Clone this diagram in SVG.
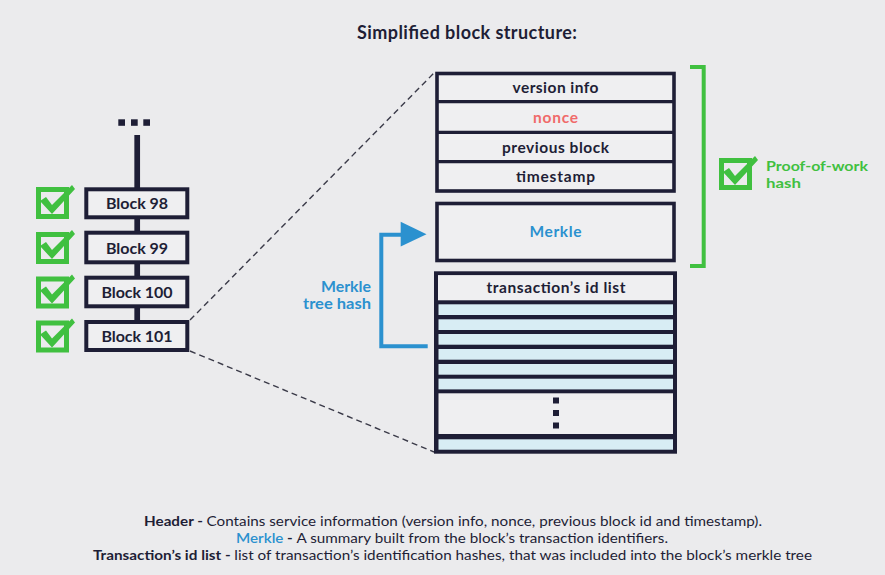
<svg xmlns="http://www.w3.org/2000/svg" width="885" height="575" viewBox="0 0 885 575">
<style>
.bg{fill:#ebebed}
.nv{stroke:#1e1e36;fill:#efeff1}
.lbl{font-family:Lato,"Open Sans",sans-serif;font-weight:700;fill:#1e1e36;text-anchor:middle}
.grn{fill:none;stroke:#40c040;stroke-width:5}
.ft{font-family:Lato,"Open Sans",sans-serif;font-size:14px;fill:#1e1e36;text-anchor:middle}
.b{font-weight:700}
.dash{stroke:#3a3a48;stroke-width:1.4;stroke-dasharray:6 4;fill:none}
</style>
<defs>
<g id="chk">
<rect x="2.5" y="2.5" width="28" height="27" class="grn"/>
<polygon points="4,14 10,10 16,18 36,-2 39,2 16,27" fill="#40c040"/>
</g>
</defs>
<rect width="885" height="575" class="bg"/>
<text x="467" y="39" class="lbl" font-size="18" textLength="220">Simplified block structure:</text>

<g id="connectors">
<line x1="190" y1="320" x2="434" y2="73" class="dash"/>
<line x1="190" y1="351" x2="434" y2="452" class="dash"/>
<line x1="137.2" y1="135" x2="137.2" y2="322" stroke="#1e1e36" stroke-width="5.7"/>
<path d="M427.7,346.3 H381.3 V234.7 H402" fill="none" stroke="#2b91cf" stroke-width="4"/>
<polygon points="400.7,221.7 426.5,234.2 400.7,246.5" fill="#2b91cf"/>
<path d="M690,67 H703.7 V266 H690" fill="none" stroke="#40c040" stroke-width="4"/>
</g>

<g id="dots-top" fill="#1e1e36">
<rect x="118.3" y="119.3" width="6.7" height="6.5"/>
<rect x="131" y="119.3" width="6.7" height="6.5"/>
<rect x="143.3" y="119.3" width="6.7" height="6.5"/>
</g>

<g id="block98">
<rect x="86.3" y="189.3" width="101" height="28" class="nv" stroke-width="4"/>
<text x="137" y="209" class="lbl" font-size="16" textLength="62">Block 98</text>
<use href="#chk" x="36" y="187"/>
</g>
<g id="block99">
<rect x="86.3" y="232.7" width="101" height="29.6" class="nv" stroke-width="4"/>
<text x="137" y="253.5" class="lbl" font-size="16" textLength="62">Block 99</text>
<use href="#chk" x="36" y="232"/>
</g>
<g id="block100">
<rect x="86.3" y="277.7" width="101" height="28.6" class="nv" stroke-width="4"/>
<text x="137" y="298" class="lbl" font-size="16" textLength="71">Block 100</text>
<use href="#chk" x="36" y="276.5"/>
</g>
<g id="block101">
<rect x="86.3" y="322" width="101" height="28" class="nv" stroke-width="4"/>
<text x="137" y="342" class="lbl" font-size="16" textLength="71">Block 101</text>
<use href="#chk" x="36" y="320.5"/>
</g>

<g id="header">
<rect x="437" y="73.5" width="237" height="117.5" class="nv" stroke-width="3.6"/>
<line x1="437" y1="101.7" x2="674" y2="101.7" stroke="#1e1e36" stroke-width="3.3"/>
<line x1="437" y1="132.3" x2="674" y2="132.3" stroke="#1e1e36" stroke-width="3.3"/>
<line x1="437" y1="161.7" x2="674" y2="161.7" stroke="#1e1e36" stroke-width="3.3"/>
<text x="555.5" y="93" class="lbl" font-size="15.5" textLength="86">version info</text>
<text x="555.5" y="123" class="lbl" font-size="15.5" textLength="45" style="fill:#f06a6a">nonce</text>
<text x="555.5" y="152.5" class="lbl" font-size="15.5" textLength="107">previous block</text>
<text x="555.5" y="182" class="lbl" font-size="15.5" textLength="79">timestamp</text>
</g>

<g id="merkle">
<rect x="437" y="203.5" width="237" height="57" class="nv" stroke-width="3.6"/>
<text x="555.5" y="237" class="lbl" font-size="15.5" textLength="52" style="fill:#2b91cf">Merkle</text>
</g>

<g id="txlist">
<rect x="436" y="300" width="239" height="151" fill="#1e1e36"/>
<g fill="#d8edf4">
<rect x="438.5" y="304.3" width="234.5" height="10.7"/>
<rect x="438.5" y="319.3" width="234.5" height="10.7"/>
<rect x="438.5" y="334" width="234.5" height="10.7"/>
<rect x="438.5" y="349" width="234.5" height="10.7"/>
<rect x="438.5" y="364" width="234.5" height="10.7"/>
<rect x="438.5" y="378.7" width="234.5" height="10.7"/>
<rect x="438.5" y="439.3" width="234.5" height="10.7"/>
</g>
<rect x="438.5" y="393.3" width="234.5" height="40.7" fill="#efeff1"/>
<rect x="436" y="273.3" width="239" height="178.4" fill="none" stroke="#1e1e36" stroke-width="4"/>
<rect x="438" y="275.3" width="235" height="25" fill="#efeff1"/>
<text x="556" y="293" class="lbl" font-size="15.5" textLength="139">transaction’s id list</text>
<g fill="#1e1e36">
<rect x="553" y="397.5" width="6" height="6"/>
<rect x="553" y="410" width="6" height="6"/>
<rect x="553" y="422.5" width="6" height="6"/>
</g>
</g>

<g id="merkle-label">
<text x="371" y="291.5" class="lbl" font-size="14.5" style="fill:#2b91cf;text-anchor:end" textLength="50" lengthAdjust="spacingAndGlyphs">Merkle</text>
<text x="371" y="309.3" class="lbl" font-size="14.5" style="fill:#2b91cf;text-anchor:end" textLength="68" lengthAdjust="spacingAndGlyphs">tree hash</text>
</g>

<g id="pow">
<use href="#chk" x="719" y="158"/>
<text x="766" y="171" class="lbl" font-size="14" style="fill:#40c040;text-anchor:start" textLength="102" lengthAdjust="spacingAndGlyphs">Proof-of-work</text>
<text x="766" y="188" class="lbl" font-size="14" style="fill:#40c040;text-anchor:start" textLength="35" lengthAdjust="spacingAndGlyphs">hash</text>
</g>

<g id="legend">
<text x="453" y="525.5" class="ft" textLength="618" lengthAdjust="spacingAndGlyphs"><tspan class="b">Header - </tspan>Contains service information (version info, nonce, previous block id and timestamp).</text>
<text x="452" y="542.5" class="ft" textLength="432" lengthAdjust="spacingAndGlyphs"><tspan fill="#2b91cf" font-weight="600">Merkle</tspan><tspan class="b"> - </tspan>A summary built from the block’s transaction identifiers.</text>
<text x="452.5" y="559.5" class="ft" textLength="719" lengthAdjust="spacingAndGlyphs"><tspan class="b">Transaction’s id list - </tspan>list of transaction’s identification hashes, that was included into the block’s merkle tree</text>
</g>
</svg>
